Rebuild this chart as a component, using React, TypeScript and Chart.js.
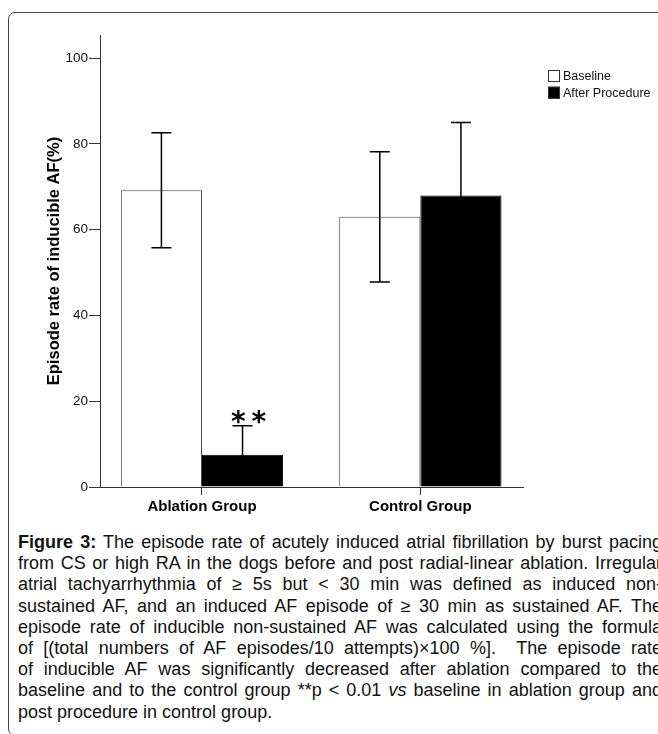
import React, { useEffect, useRef } from 'react';
import { Chart, registerables } from 'chart.js';

Chart.register(...registerables);

const categories = ['Ablation Group', 'Control Group'];
const seriesNames = ['Baseline', 'After Procedure'];
const baselineMeans = [69.2, 63.0];
const baselineErrors = [13.4, 15.2];
const afterMeans = [7.5, 68.0];
const afterErrors = [6.8, 17.0];
const baselineMarks = ['', ''];
const afterMarks = ['* *', ''];
const yTicks = [0, 20, 40, 60, 80, 100];
const yAxisTitle = 'Episode rate of inducible AF(%)';

const FONT = '"Liberation Sans", Arial, Helvetica, sans-serif';

const errorBarPlugin = {
  id: 'errorBars',
  afterDatasetsDraw(chart: any) {
    const { ctx } = chart;
    const yScale = chart.scales.y;
    chart.data.datasets.forEach((ds: any, di: number) => {
      const meta = chart.getDatasetMeta(di);
      meta.data.forEach((el: any, i: number) => {
        const v = ds.data[i].y;
        const e = ds.errors[i];
        const x = el.x;
        const yTop = yScale.getPixelForValue(v + e);
        const yBot = yScale.getPixelForValue(v - e);
        ctx.save();
        ctx.strokeStyle = '#000';
        ctx.lineWidth = 1.5;
        ctx.beginPath();
        ctx.moveTo(x, yTop);
        ctx.lineTo(x, yBot);
        ctx.moveTo(x - 10, yTop);
        ctx.lineTo(x + 10, yTop);
        ctx.moveTo(x - 10, yBot);
        ctx.lineTo(x + 10, yBot);
        ctx.stroke();
        const mark = ds.marks[i];
        if (mark) {
          ctx.fillStyle = '#000';
          ctx.font = `bold 28px "DejaVu Sans", ${FONT}`;
          (ctx as any).letterSpacing = '-2px';
          ctx.textAlign = 'center';
          ctx.textBaseline = 'alphabetic';
          ctx.fillText(mark, x + 5, yTop + 5);
        }
        ctx.restore();
      });
    });
  },
};

const legendPlugin = {
  id: 'customLegend',
  afterDraw(chart: any) {
    const { ctx, chartArea } = chart;
    const x0 = chartArea.right + 25;
    const y0 = chartArea.top + 35;
    chart.data.datasets.forEach((ds: any, i: number) => {
      const y = y0 + i * 16.7;
      ctx.save();
      ctx.fillStyle = ds.backgroundColor;
      ctx.fillRect(x0, y, 12, 12);
      ctx.strokeStyle = '#333';
      ctx.lineWidth = 1;
      ctx.strokeRect(x0 + 0.5, y + 0.5, 11, 11);
      ctx.fillStyle = '#111';
      ctx.font = `12.5px ${FONT}`;
      ctx.textAlign = 'left';
      ctx.textBaseline = 'middle';
      ctx.fillText(ds.label, x0 + 15, y + 6.5);
      ctx.restore();
    });
  },
};

const captionLines: React.ReactNode[] = [
  <><b>Figure 3:</b> The episode rate of acutely induced atrial fibrillation by burst pacing</>,
  <>from CS or high RA in the dogs before and post radial-linear ablation. Irregular</>,
  <>atrial tachyarrhythmia of ≥ 5s but &lt; 30 min was defined as induced non-</>,
  <>sustained AF, and an induced AF episode of ≥ 30 min as sustained AF. The</>,
  <>episode rate of inducible non-sustained AF was calculated using the formula</>,
  <>of [(total numbers of AF episodes/10 attempts)×100 %].&nbsp; The episode rate</>,
  <>of inducible AF was significantly decreased after ablation compared to the</>,
  <>baseline and to the control group **p &lt; 0.01 <i>vs</i> baseline in ablation group and</>,
  <>post procedure in control group.</>,
];

export default function App() {
  const canvasRef = useRef<HTMLCanvasElement | null>(null);

  useEffect(() => {
    if (!canvasRef.current) return;
    const chart = new Chart(canvasRef.current, {
      type: 'bar',
      data: {
        datasets: [
          {
            label: seriesNames[0],
            data: categories.map((_, i) => ({ x: i, y: baselineMeans[i] })),
            backgroundColor: '#ffffff',
            borderColor: '#4a4a4a',
            borderWidth: 1,
            errors: baselineErrors,
            marks: baselineMarks,
          } as any,
          {
            label: seriesNames[1],
            data: categories.map((_, i) => ({ x: i, y: afterMeans[i] })),
            backgroundColor: '#000000',
            borderColor: '#000000',
            borderWidth: 1,
            errors: afterErrors,
            marks: afterMarks,
          } as any,
        ],
      },
      options: {
        responsive: false,
        animation: false,
        devicePixelRatio: 1,
        layout: { padding: { top: 35, right: 135, left: 0, bottom: 0 } },
        datasets: { bar: { categoryPercentage: 0.743, barPercentage: 1 } },
        plugins: { legend: { display: false }, tooltip: { enabled: false } },
        scales: {
          x: {
            type: 'linear',
            min: -0.467,
            max: 1.47,
            offset: false,
            afterBuildTicks: (s: any) => {
              s.ticks = categories.map((_, i) => ({ value: i }));
            },
            afterFit: (s: any) => {
              s.height = 40;
            },
            ticks: {
              callback: (v: any) => categories[v] ?? '',
              font: { family: FONT, size: 15, weight: 'bold' },
              color: '#000',
              padding: 3,
              maxRotation: 0,
              autoSkip: false,
            },
            grid: { offset: false, drawOnChartArea: false, drawTicks: true, tickLength: 8, color: '#333', lineWidth: 1 },
            border: { display: true, color: '#333', width: 1 },
          },
          y: {
            min: 0,
            max: 105.4,
            afterBuildTicks: (s: any) => {
              s.ticks = yTicks.map((v) => ({ value: v }));
            },
            afterFit: (s: any) => {
              s.width = 100;
            },
            ticks: { font: { family: FONT, size: 13.5 }, color: '#111', padding: 1 },
            grid: { drawOnChartArea: false, drawTicks: true, tickLength: 11, color: '#333', lineWidth: 1 },
            border: { display: true, color: '#333', width: 1 },
            title: {
              display: true,
              text: yAxisTitle,
              font: { family: FONT, size: 16.5, weight: 'bold' },
              color: '#000',
              padding: { top: 45, bottom: 0 },
            },
          },
        },
      } as any,
      plugins: [errorBarPlugin, legendPlugin],
    });
    return () => chart.destroy();
  }, []);

  return (
    <div style={{ position: 'absolute', left: 0, top: 0, width: 658, height: 734, overflow: 'hidden', background: '#fff' }}>
      <div
        style={{
          position: 'absolute',
          left: 8,
          top: 12,
          width: 700,
          height: 724,
          border: '1.5px solid #444',
          borderRadius: 7,
          boxSizing: 'border-box',
        }}
      />
      <canvas ref={canvasRef} width={658} height={527} style={{ position: 'absolute', left: 0, top: 0 }} />
      <div
        style={{
          position: 'absolute',
          left: 18,
          top: 532,
          width: 644,
          fontFamily: FONT,
          fontSize: 18,
          lineHeight: '21.2px',
          color: '#111',
        }}
      >
        {captionLines.map((line, i) => (
          <div
            key={i}
            style={{
              textAlign: 'justify',
              textAlignLast: i === captionLines.length - 1 ? 'left' : 'justify',
              whiteSpace: 'normal',
            }}
          >
            {line}
          </div>
        ))}
      </div>
    </div>
  );
}
